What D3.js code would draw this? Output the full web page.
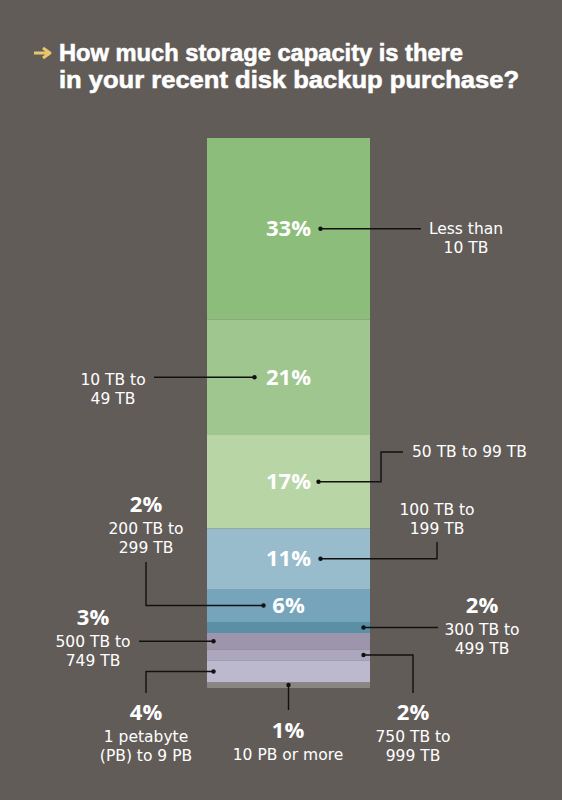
<!DOCTYPE html>
<html>
<head>
<meta charset="utf-8">
<script src="https://cdn.jsdelivr.net/npm/d3@7"></script>
<style>
  html, body { margin: 0; padding: 0; background: #625c59; }
  text { fill: #fff; }
  .title { font-family: "Liberation Sans Narrow", "Liberation Sans", sans-serif; font-weight: 700;
           stroke: #fff; stroke-width: 0.6; }
  .pct { font-family: "Open Sans", sans-serif; font-weight: 700; }
  .lbl { font-family: "DejaVu Sans", sans-serif; }
</style>
</head>
<body>
<svg id="chart"></svg>
<script>
// data, top segment first
const categories = ["Less than 10 TB", "10 TB to 49 TB", "50 TB to 99 TB", "100 TB to 199 TB",
  "200 TB to 299 TB", "300 TB to 499 TB", "500 TB to 749 TB", "750 TB to 999 TB",
  "1 petabyte (PB) to 9 PB", "10 PB or more"];
const values = [33, 21, 17, 11, 6, 2, 3, 2, 4, 1];
// how the callout text is broken in the picture
const labelLines = [["Less than", "10 TB"], ["10 TB to", "49 TB"], ["50 TB to 99 TB"], ["100 TB to", "199 TB"],
  ["200 TB to", "299 TB"], ["300 TB to", "499 TB"], ["500 TB to", "749 TB"], ["750 TB to", "999 TB"],
  ["1 petabyte", "(PB) to 9 PB"], ["10 PB or more"]];
// percent shown in the callout instead of inside the bar (as printed)
const calloutPct = ["", "", "", "", "2%", "2%", "3%", "2%", "4%", "1%"];
const title = ["How much storage capacity is there", "in your recent disk backup purchase?"];

const colors = ["#8dbd7b", "#9fc68f", "#b7d5a5", "#98bccb", "#76a5bb", "#5b8fa6",
  "#9d95ab", "#aca7bd", "#bcb9cf", "#8a8580"];

const width = 562, height = 800;
const svg = d3.select("#chart").attr("width", width).attr("height", height);

// title
svg.append("path")
    .attr("d", "M34,53 L48,53 M43,48 L50,53 L43,58")
    .attr("stroke", "#e8c76a").attr("stroke-width", 3)
    .attr("fill", "none").attr("stroke-linejoin", "round");
const titleWidths = [404, 460];
svg.append("g").selectAll("text")
    .data(title)
    .join("text")
    .attr("class", "title")
    .attr("x", 59)
    .attr("y", (d, i) => 61 + i * 27)
    .attr("font-size", 24)
    .attr("textLength", (d, i) => titleWidths[i])
    .attr("lengthAdjust", "spacingAndGlyphs")
    .text(d => d);

// stacked bar
let acc = 0;
const segs = values.map((v, i) => {
  const s = {i: i, cat: categories[i], v: v, y0: acc, y1: acc + v};
  acc += v;
  return s;
});

const y = d3.scaleLinear().domain([0, 100]).range([138, 688]);
const x = d3.scaleBand().domain(["all"]).range([207, 370]).padding(0);
const cx = x("all") + x.bandwidth() / 2;

svg.append("g").selectAll("rect")
    .data(segs)
    .join("rect")
    .attr("x", x("all"))
    .attr("y", d => y(d.y0))
    .attr("width", x.bandwidth())
    .attr("height", d => y(d.y1) - y(d.y0))
    .attr("fill", d => colors[d.i]);

// percent labels inside the bar
svg.append("g").selectAll("text")
    .data(segs.filter(d => d.v >= 6))
    .join("text")
    .attr("class", "pct")
    .attr("x", cx)
    .attr("y", d => y((d.y0 + d.y1) / 2) + 7.5)
    .attr("text-anchor", "middle")
    .attr("font-size", 22)
    .text(d => d.v + "%");

// callout layout: dot offset from bar centre, bends, label position
const layout = [
  {dot: 32,  route: [[421, null]], lx: 466, ly: 234, anchor: "middle"},
  {dot: -34, route: [[154, null]], lx: 113, ly: 385, anchor: "middle"},
  {dot: 30,  route: [[381, null], [381, 452], [403, 452]], lx: 412, ly: 457, anchor: "start"},
  {dot: 32,  route: [[437, null], [437, 542]], lx: 437, ly: 515, anchor: "middle"},
  {dot: -25, route: [[146, null], [146, 562]], lx: 146, ly: 534, anchor: "middle"},
  {dot: 75,  route: [[438, null]], lx: 482, ly: 635, anchor: "middle"},
  {dot: -75, route: [[139, null]], lx: 93, ly: 647, anchor: "middle"},
  {dot: 75,  route: [[413, null], [413, 693]], lx: 413, ly: 742, anchor: "middle"},
  {dot: -75, route: [[146, null], [146, 693]], lx: 146, ly: 742, anchor: "middle"},
  {dot: 0,   route: [[null, 710]], lx: 288, ly: 760, anchor: "middle", bottom: true}
];

const callouts = svg.append("g");
segs.forEach(d => {
  const L = layout[d.i];
  const dx = cx + L.dot;
  const dy = L.bottom ? y(d.y1) - 3 : y((d.y0 + d.y1) / 2);
  const pts = [[dx, dy]].concat(L.route.map(p => [p[0] == null ? dx : p[0], p[1] == null ? dy : p[1]]));

  callouts.append("path")
      .attr("d", d3.line()(pts))
      .attr("fill", "none")
      .attr("stroke", "#111")
      .attr("stroke-width", 1.4);
  callouts.append("circle")
      .attr("cx", dx).attr("cy", dy).attr("r", 2.2)
      .attr("fill", "#111");

  labelLines[d.i].forEach((line, k) => {
    callouts.append("text")
        .attr("class", "lbl")
        .attr("x", L.lx)
        .attr("y", L.ly + k * 19)
        .attr("text-anchor", L.anchor)
        .attr("font-size", 15.5)
        .text(line);
  });
  if (calloutPct[d.i]) {
    callouts.append("text")
        .attr("class", "pct")
        .attr("x", L.lx)
        .attr("y", L.ly - 22)
        .attr("text-anchor", "middle")
        .attr("font-size", 22)
        .text(calloutPct[d.i]);
  }
});
</script>
</body>
</html>
